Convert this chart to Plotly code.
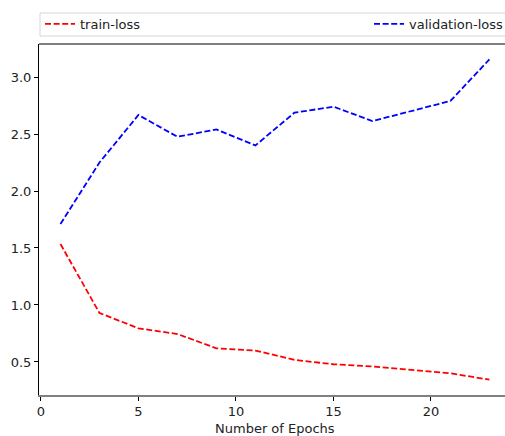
import plotly.graph_objects as go

epochs = [1, 3, 5, 7, 9, 11, 13, 15, 17, 19, 21, 23]
train_loss = [1.535, 0.93, 0.795, 0.745, 0.62, 0.60, 0.518, 0.48, 0.46, 0.43, 0.40, 0.345]
val_loss = [1.71, 2.25, 2.667, 2.476, 2.54, 2.40, 2.687, 2.74, 2.614, 2.70, 2.79, 3.155]
x_ticks = [0, 5, 10, 15, 20]
y_ticks = [0.5, 1.0, 1.5, 2.0, 2.5, 3.0]

FONT = "DejaVu Sans"
FS = 13
L, T, B, W, H = 39, 44, 41, 505, 436
PW, PH = W - L, H - T - B


def px_x(p):
    return (p - L) / PW


def px_y(p):
    return (H - B - p) / PH


DASH = "6px,2.6px"

fig = go.Figure()
fig.add_trace(go.Scatter(x=epochs, y=train_loss, mode="lines", name="train-loss",
                         legend="legend",
                         line=dict(color="red", dash=DASH, width=1.8)))
fig.add_trace(go.Scatter(x=epochs, y=val_loss, mode="lines", name="validation-loss",
                         legend="legend2",
                         line=dict(color="blue", dash=DASH, width=1.8)))

leg_common = dict(orientation="h", yanchor="middle", y=px_y(24),
                  bgcolor="rgba(0,0,0,0)", borderwidth=0, xanchor="left",
                  font=dict(family=FONT, size=FS, color="#222"))

fig.update_layout(
    width=W, height=H,
    margin=dict(l=L, r=0, t=T, b=B, autoexpand=False),
    plot_bgcolor="white", paper_bgcolor="white",
    font=dict(family=FONT, size=FS, color="#222"),
    showlegend=True,
    legend=dict(x=px_x(40), **leg_common),
    legend2=dict(x=px_x(369), **leg_common),
    xaxis=dict(range=[-0.1, 23.8], tickvals=x_ticks, showgrid=False, zeroline=False,
               showline=True, linecolor="#808080", linewidth=1.5,
               ticks="outside", ticklen=4, tickcolor="black",
               tickfont=dict(family=FONT, size=FS, color="#222")),
    yaxis=dict(range=[0.21, 3.29], tickvals=y_ticks, tickformat=".1f", showgrid=False,
               zeroline=False, showline=True, linecolor="black", linewidth=1,
               ticks="outside", ticklen=4, tickcolor="black",
               tickfont=dict(family=FONT, size=FS, color="#222")),
)
# legend frame
fig.add_shape(type="rect", xref="paper", yref="paper",
              x0=px_x(40), x1=px_x(515), y0=px_y(36), y1=px_y(13),
              line=dict(color="#d6d6d6", width=1), fillcolor="rgba(0,0,0,0)", layer="below")
# top spine
fig.add_shape(type="line", xref="paper", yref="paper", x0=0, x1=1, y0=1, y1=1,
              line=dict(color="black", width=1))
# x-axis title
fig.add_annotation(text="Number of Epochs", xref="x", yref="paper", x=12, y=0,
                   yshift=-33, yanchor="middle", showarrow=False,
                   font=dict(family=FONT, size=FS, color="#222"))

fig.write_html("out.html", config={"displayModeBar": False},
               post_script="document.body.style.margin='0';document.body.style.overflow='hidden';")
